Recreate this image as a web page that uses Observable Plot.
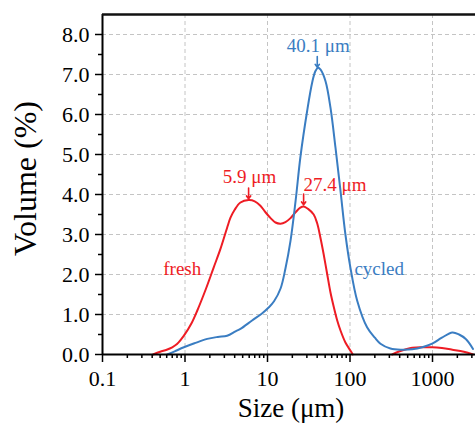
<!DOCTYPE html>
<html>
<head>
<meta charset="utf-8">
<script src="https://cdn.jsdelivr.net/npm/d3@7"></script>
<script src="https://cdn.jsdelivr.net/npm/@observablehq/plot@0.6"></script>
<style>
  html, body { margin: 0; padding: 0; background: #ffffff; }
  #chart svg { display: block; }
</style>
</head>
<body>
<div id="chart"></div>
<script>
// ---- data ----
const freshSize = [0.41, 0.5, 0.6, 0.7, 0.8, 0.97, 1.2, 1.41, 1.8, 2.23, 2.69, 3.24, 3.56, 4.0, 4.7, 5.9, 7.0, 8.2, 9.5, 10.9, 12.5, 14.4, 16.5, 19, 22, 25, 27.4, 31, 36.3, 40, 44, 48, 53, 58, 63.7, 70, 76.7, 88, 101, 108,
  200,
  325, 400, 567, 822, 991, 1300, 1740, 2400, 3100];
const freshVol = [0, 0.07, 0.12, 0.18, 0.26, 0.47, 0.78, 1.1, 1.65, 2.18, 2.64, 3.17, 3.42, 3.62, 3.8, 3.86, 3.83, 3.72, 3.55, 3.41, 3.3, 3.27, 3.31, 3.41, 3.56, 3.67, 3.7, 3.64, 3.5, 3.28, 2.9, 2.5, 2.0, 1.55, 1.18, 0.85, 0.6, 0.3, 0.1, 0,
  null,
  0, 0.08, 0.17, 0.18, 0.18, 0.16, 0.12, 0.07, 0];

const cycledSize = [0.61, 0.75, 0.97, 1.3, 1.86, 2.5, 3.24, 4.1, 4.7, 6.5, 8.5, 10.4, 12, 14.4, 16.5, 19, 21.9, 25.1, 30.3, 34.8, 38, 41, 44, 50.5, 58, 66.7, 76.7, 88, 101, 122, 161, 200, 234, 309, 420, 567, 750, 991, 1300, 1740, 2100, 2530, 2800, 3100];
const cycledVol = [0, 0.08, 0.18, 0.28, 0.39, 0.44, 0.47, 0.58, 0.64, 0.85, 1.02, 1.18, 1.33, 1.65, 2.15, 2.84, 3.84, 4.95, 6.1, 6.8, 7.08, 7.17, 7.12, 6.83, 6.17, 5.17, 4.09, 3.0, 2.18, 1.35, 0.68, 0.42, 0.27, 0.15, 0.12, 0.13, 0.18, 0.27, 0.42, 0.55, 0.5, 0.39, 0.28, 0.14];

const peakLabels = ["5.9 μm", "27.4 μm", "40.1 μm"];
const peakSize = [5.9, 27.4, 40.1];
const peakVol = [3.89, 3.74, 7.18];
const peakSeries = ["fresh", "fresh", "cycled"];
const peakAnchor = ["middle", "start", "middle"];

const seriesNames = ["fresh", "cycled"];
const seriesLabelSize = [0.925, 226];
const seriesLabelVol = [2.14, 2.14];

const xMajorTicks = [0.1, 1, 10, 100, 1000];
const yMajorTicks = [0, 1, 2, 3, 4, 5, 6, 7, 8];
const yMinorTicks = [0.5, 1.5, 2.5, 3.5, 4.5, 5.5, 6.5, 7.5];
const xMinorTicks = [0.2,0.3,0.4,0.5,0.6,0.7,0.8,0.9, 2,3,4,5,6,7,8,9, 20,30,40,50,60,70,80,90, 200,300,400,500,600,700,800,900, 2000,3000];

const colors = { fresh: "#ee1c24", cycled: "#3a7dc2" };

// ---- build tables ----
const fresh = freshSize.map((s, i) => ({ size: s, vol: freshVol[i] }));
const cycled = cycledSize.map((s, i) => ({ size: s, vol: cycledVol[i] }));
const peaks = peakLabels.map((t, i) => ({ label: t, size: peakSize[i], vol: peakVol[i], series: peakSeries[i], anchor: peakAnchor[i] }));
const seriesLabels = seriesNames.map((n, i) => ({ name: n, size: seriesLabelSize[i], vol: seriesLabelVol[i] }));

const serif = "Liberation Serif";
const arrowLen = 0.27;

const chart = Plot.plot({
  width: 475,
  height: 423,
  marginLeft: 102,
  marginRight: 0,
  marginTop: 14,
  marginBottom: 69,
  x: { type: "log", domain: [0.1, 3320] },
  y: { domain: [0, 8.5] },
  marks: [
    Plot.gridX(xMajorTicks.slice(1), { stroke: "#c4c4c4", strokeOpacity: 1, strokeDasharray: "4,3" }),
    Plot.gridY(yMajorTicks.slice(1), { stroke: "#c4c4c4", strokeOpacity: 1, strokeDasharray: "4,3" }),
    Plot.line(fresh, { x: "size", y: "vol", stroke: colors.fresh, strokeWidth: 2, curve: "catmull-rom" }),
    Plot.line(cycled, { x: "size", y: "vol", stroke: colors.cycled, strokeWidth: 2, curve: "catmull-rom" }),
    Plot.axisY(yMajorTicks, { tickSize: 7, tickPadding: 6, tickFormat: d3.format(".1f"), fontSize: 22, fontFamily: serif, stroke: "#000", strokeWidth: 1.5, color: "#000", label: null }),
    Plot.axisY(yMinorTicks, { tickSize: 4, text: null, stroke: "#000", strokeWidth: 1.5, label: null }),
    Plot.axisX(xMajorTicks, { tickSize: 8, tickPadding: 8, tickFormat: d => String(d), fontSize: 22, fontFamily: serif, stroke: "#000", strokeWidth: 1.5, color: "#000", label: null }),
    Plot.axisX(xMinorTicks, { tickSize: 4, text: null, stroke: "#000", strokeWidth: 1.5, label: null }),
    Plot.ruleX([0.1], { stroke: "#000", strokeWidth: 2 }),
    Plot.ruleY([0], { stroke: "#000", strokeWidth: 2 }),
    Plot.ruleY([8.5], { stroke: "#111", strokeWidth: 2.5 }),
    Plot.text(["Volume (%)"], { frameAnchor: "left", rotate: -90, textAnchor: "middle", dx: -77, dy: -6, fontSize: 32, fontFamily: serif, fill: "#000", lineAnchor: "middle" }),
    Plot.text(["Size (μm)"], { frameAnchor: "bottom", textAnchor: "middle", dx: 2, dy: 54, fontSize: 27, fontFamily: serif, fill: "#000", lineAnchor: "middle" }),
    Plot.arrow(peaks, { x1: "size", x2: "size", y1: d => d.vol + arrowLen, y2: "vol", stroke: d => colors[d.series], strokeWidth: 1.6, headLength: 6, headAngle: 70 }),
    Plot.text(peaks, { x: "size", y: d => d.vol + arrowLen, text: "label", textAnchor: "middle", filter: d => d.anchor === "middle", fill: d => colors[d.series], fontSize: 19, fontFamily: serif, lineAnchor: "bottom", dy: -5, dx: 1 }),
    Plot.text(peaks, { x: "size", y: d => d.vol + arrowLen, text: "label", textAnchor: "start", filter: d => d.anchor === "start", fill: d => colors[d.series], fontSize: 19, fontFamily: serif, lineAnchor: "bottom", dy: -3, dx: 0 }),
    Plot.text(seriesLabels, { x: "size", y: "vol", text: "name", fill: d => colors[d.name], fontSize: 19, fontFamily: serif, lineAnchor: "middle" })
  ]
});

chart.querySelectorAll("style").forEach(s => {
  s.textContent = s.textContent.replace(/font:\s*10px[^;]*;/g, "font-family: 'Liberation Serif'; font-size: 10px;");
});
chart.setAttribute("font-family", serif);

document.getElementById("chart").appendChild(chart);
</script>
</body>
</html>
